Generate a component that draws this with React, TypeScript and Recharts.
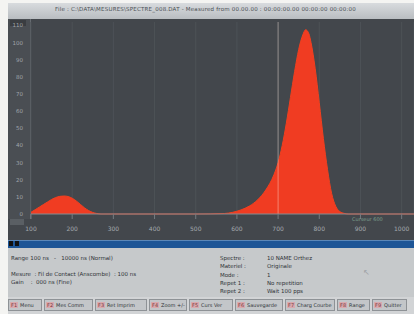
import React from "react";
import { AreaChart, Area, XAxis, YAxis, CartesianGrid, ReferenceLine } from "recharts";

const xPoints = [0, 10, 20, 30, 40, 50, 60, 70, 80, 90, 100, 110, 120, 130, 140, 150, 160, 170, 250, 400, 470, 490, 510, 530, 550, 570, 590, 600, 610, 620, 630, 640, 650, 660, 667, 675, 680, 690, 700, 710, 720, 730, 740, 750, 760, 770, 850, 930];
const intensity = [1.0, 2.5, 4.0, 5.5, 7.0, 8.5, 9.6, 10.3, 10.5, 10.2, 9.2, 7.6, 5.6, 3.6, 2.0, 0.9, 0.3, 0, 0, 0, 0.3, 1.0, 2.4, 4.6, 8.2, 14, 23, 30, 40, 53, 68, 83, 96, 104.5, 107.5, 105, 100, 85, 65, 44, 26, 12, 4.5, 1.4, 0.4, 0, 0, 0];
const xTicks = [0, 100, 200, 300, 400, 500, 600, 700, 800, 900];
const xTickLabels = ["100", "200", "300", "400", "500", "600", "700", "800", "900", "1000"];
const yTicks = [0, 10, 20, 30, 40, 50, 60, 70, 80, 90, 100, 110];
const cursorX = 600;

const data = xPoints.map((x, i) => ({ x, v: intensity[i] }));

const infoLeft = [
  { y: 255, t: "Range 100 ns   -   10000 ns (Normal)" },
  { y: 271, t: "Mesure  : Fil de Contact (Anscombe)  : 100 ns" },
  { y: 279, t: "Gain    :  000 ns (Fine)" },
];
const infoRightLabels = ["Spectre", "Materiel", "Mode", "Repet 1", "Repet 2"];
const infoRightValues = ["10 NAME Orthez", "Originale", "1", "No repetition", "Wait 100 pps"];
const buttons = [
  { x: 8, w: 34, k: "F1", t: "Menu" },
  { x: 44, w: 49, k: "F2", t: "Mes  Comm" },
  { x: 95, w: 52, k: "F3", t: "Ret  Imprim" },
  { x: 149, w: 38, k: "F4", t: "Zoom +/-" },
  { x: 189, w: 44, k: "F5", t: "Curs Ver" },
  { x: 235, w: 48, k: "F6", t: "Sauvegarde" },
  { x: 285, w: 50, k: "F7", t: "Charg Courbe" },
  { x: 337, w: 33, k: "F8", t: "Range" },
  { x: 372, w: 35, k: "F9", t: "Quitter" },
];

const font = "'DejaVu Sans', sans-serif";

export default function App() {
  return (
    <div style={{ position: "absolute", left: 0, top: 0, width: 414, height: 314, background: "#f4f4f2", overflow: "hidden", fontFamily: font }}>
      {/* title bar */}
      <div style={{ position: "absolute", left: 8, top: 3, width: 406, height: 16, background: "linear-gradient(#d8dbde,#b9bdc1)" }} />
      <div style={{ position: "absolute", left: 55, top: 6, fontSize: 5.5, color: "#4a4f54", whiteSpace: "nowrap", letterSpacing: 0.2 }}>
        File : C:\DATA\MESURES\SPECTRE_008.DAT  -  Measured from 00.00.00 : 00:00:00.00 00:00:00   00:00:00
      </div>
      {/* dark screen */}
      <div style={{ position: "absolute", left: 8, top: 19, width: 406, height: 221, background: "#43474c" }} />
      <div style={{ position: "absolute", left: 8, top: 19, width: 22, height: 200, background: "#4a4e53", borderRight: "1px solid #666b70" }} />
      <div style={{ position: "absolute", left: 10, top: 20, width: 16, height: 6, background: "#3a3d41" }} />
      <div style={{ position: "absolute", left: 10, top: 219, width: 14, height: 6, background: "#5a5f64" }} />
      <div style={{ position: "absolute", left: 8, top: 19 }}>
        <AreaChart width={406} height={221} data={data} margin={{ top: 3, right: 0, bottom: 0, left: 0 }}>
          <CartesianGrid vertical={true} horizontal={false} stroke="#4d5257" />
          <XAxis
            dataKey="x"
            type="number"
            domain={[0, 930]}
            ticks={xTicks}
            tickFormatter={(v: number) => xTickLabels[xTicks.indexOf(v)]}
            height={26}
            axisLine={{ stroke: "#868b90" }}
            tickLine={{ stroke: "#767b80" }}
            tickSize={5}
            tickMargin={8}
            tick={{ fill: "#a4a9ae", fontSize: 6, fontFamily: font }}
            interval={0}
          />
          <YAxis
            type="number"
            domain={[0, 112]}
            ticks={yTicks}
            width={23}
            axisLine={false}
            tickLine={false}
            tickMargin={2}
            tick={{ fill: "#a0a5aa", fontSize: 5.5, fontFamily: font }}
            interval={0}
          />
          <Area type="monotone" dataKey="v" stroke="#f2401f" strokeWidth={1} fill="#f03c22" fillOpacity={1} isAnimationActive={false} />
          <ReferenceLine x={cursorX} stroke="rgba(255,235,225,0.4)" strokeWidth={1} />
        </AreaChart>
      </div>
      <div style={{ position: "absolute", left: 352, top: 216, fontSize: 5, color: "#7fa08f", whiteSpace: "nowrap" }}>Curseur 600</div>
      {/* blue status bar */}
      <div style={{ position: "absolute", left: 8, top: 240, width: 406, height: 8, background: "#1d5596", borderTop: "1px solid #5b87b8" }} />
      <div style={{ position: "absolute", left: 9, top: 241, width: 4, height: 5, background: "#111" }} />
      <div style={{ position: "absolute", left: 15, top: 241, width: 4, height: 5, background: "#111" }} />
      {/* info panel */}
      <div style={{ position: "absolute", left: 8, top: 248, width: 406, height: 49, background: "#c6c9cb" }} />
      {infoLeft.map((l, i) => (
        <div key={i} style={{ position: "absolute", left: 11, top: l.y, fontSize: 5.5, color: "#2f3337", whiteSpace: "pre" }}>{l.t}</div>
      ))}
      {infoRightLabels.map((l, i) => (
        <div key={i} style={{ position: "absolute", left: 220, top: 255 + i * 8.3, fontSize: 5.5, color: "#2f3337", whiteSpace: "pre" }}>{l + " :"}</div>
      ))}
      {infoRightValues.map((l, i) => (
        <div key={i} style={{ position: "absolute", left: 267, top: 255 + i * 8.3, fontSize: 5.5, color: "#2f3337", whiteSpace: "pre" }}>{l}</div>
      ))}
      <div style={{ position: "absolute", left: 363, top: 268, fontSize: 8, color: "#9ea2a6" }}>↖</div>
      {/* buttons */}
      <div style={{ position: "absolute", left: 8, top: 297, width: 406, height: 17, background: "#d2d4d6" }} />
      {buttons.map((b, i) => (
        <div key={i} style={{ position: "absolute", left: b.x, top: 299, width: b.w, height: 12, background: "#c3c6c9", border: "1px solid #8e9296", boxSizing: "border-box", fontSize: 5, color: "#2f3337", whiteSpace: "nowrap", overflow: "hidden", display: "flex", alignItems: "center" }}>
          <span style={{ background: "#d9a9ae", color: "#7a3a40", padding: "0 1px", marginRight: 2, marginLeft: 1 }}>{b.k}</span>
          <span>{b.t}</span>
        </div>
      ))}
    </div>
  );
}
